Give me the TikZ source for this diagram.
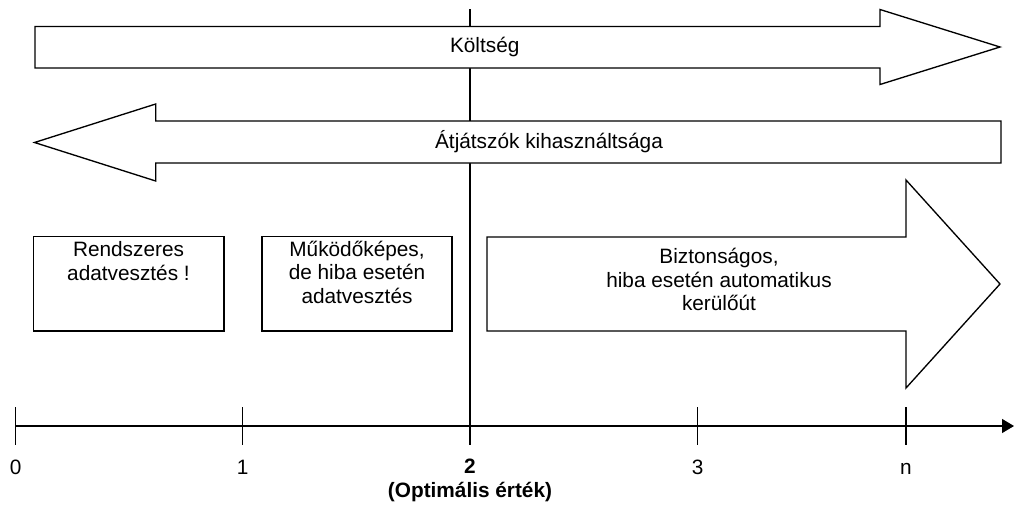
\documentclass[tikz,border=0pt]{standalone}
\usepackage{fontspec}
\setmainfont{Liberation Sans}
\usetikzlibrary{arrows.meta}
\begin{document}
\begin{tikzpicture}[x=0.75pt,y=-0.75pt,
  outline/.style={draw=black,line width=1pt,fill=white,line join=miter},
  lbl/.style={font=\fontsize{15.6pt}{17.5pt}\selectfont,align=center,inner sep=0pt},
  tickline/.style={draw=black,line width=1pt},
  axisline/.style={draw=black,line width=1pt,-{Triangle[length=9pt,width=10.5pt]}}]
\useasboundingbox (0,0) rectangle (1016,507);

% optimum marker: runs from the top down to the axis
\coordinate (opttop) at (470,9.3);
\coordinate (optbot) at (470,445);
\draw[tickline] (opttop) -- (optbot);

% cost arrow, pointing right
\draw[outline] (35,26.5) -- (880,26.5) -- (880,9.5) -- (1000,47) -- (880,84.5)
  -- (880,68) -- (35,68) -- cycle;
\node[lbl] (cost) at (484.7,47) {Költség};

% relay utilisation arrow, pointing left
\draw[outline] (1001,121) -- (155.7,121) -- (155.7,104) -- (34.5,142.5)
  -- (155.7,181) -- (155.7,163) -- (1001,163) -- cycle;
\node[lbl] (relay) at (549,142) {Átjátszók kihasználtsága};

% region boxes (anchor=base sits on the last line)
\draw[outline] (33.5,236.7) rectangle (224,331);
\node[lbl,anchor=base] (r1) at (128.5,280) {Rendszeres\\adatvesztés !};
\draw[outline] (262,236.7) rectangle (452,331);
\node[lbl,anchor=base] (r2) at (357,303.3) {Működőképes,\\de hiba esetén\\adatvesztés};

% safe region arrow
\draw[outline] (487,237) -- (906,237) -- (906,180) -- (1000,284) -- (906,388)
  -- (906,331) -- (487,331) -- cycle;
\node[lbl,anchor=base] (r3) at (719,310.5) {Biztonságos,\\hiba esetén automatikus\\kerülőút};

% axis with ticks
\coordinate (axstart) at (15.7,426);
\coordinate (axend) at (1014,426);
\draw[axisline] (axstart) -- (axend);
\foreach \n/\x in {0/15.7,1/242.7,2/470,3/697.7,n/906}{
  \coordinate (tt\n) at (\x,407);
  \coordinate (tb\n) at (\x,445);
  \draw[tickline] (tt\n) -- (tb\n);
}
\node[lbl,anchor=base] (l0) at (15.7,474) {0};
\node[lbl,anchor=base] (l1) at (242.7,474) {1};
\node[lbl,anchor=base,font=\fontsize{15.6pt}{17.5pt}\selectfont\bfseries] (l2) at (470,497.3) {2\\(Optimális érték)};
\node[lbl,anchor=base] (l3) at (697.7,474) {3};
\node[lbl,anchor=base] (ln) at (906,474) {n};
\end{tikzpicture}
\end{document}
